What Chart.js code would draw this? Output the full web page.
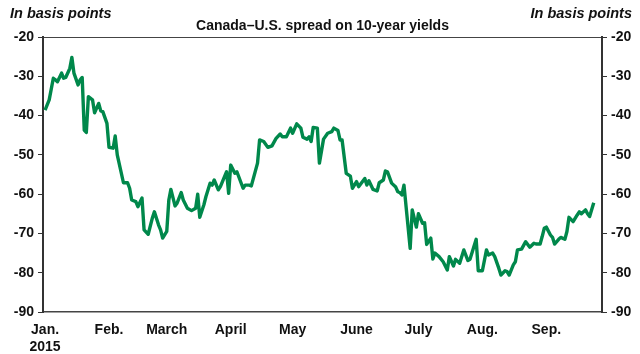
<!DOCTYPE html>
<html>
<head>
<meta charset="utf-8">
<title>Canada–U.S. spread on 10-year yields</title>
<script src="https://cdn.jsdelivr.net/npm/chart.js@4/dist/chart.umd.min.js"></script>
<style>
  html, body { margin: 0; padding: 0; background: #fff; }
  #chart { display: block; }
</style>
</head>
<body>
<canvas id="chart" width="640" height="354"></canvas>
<script>
// Day of year (0 = Jan. 1, 2015) and spread in basis points
const DAYS = [0, 2, 4, 5, 6, 8, 9, 10, 12, 13, 14, 16, 17, 18, 19, 20, 21, 23, 24, 26, 27, 28, 30, 31, 33, 34, 35, 38, 40,
  41, 42, 44, 45, 47, 48, 50, 52, 53, 55, 56, 57, 59, 60, 61, 63, 64, 66, 67, 69, 71, 73, 74, 75, 77, 78, 80,
  81, 82, 84, 85, 86, 88, 89, 90, 92, 93, 96, 97, 99, 100, 103, 104, 106, 108, 110, 112, 114, 115, 117, 119,
  120, 122, 124, 125, 127, 128, 129, 130, 132, 133, 135, 137, 139, 140, 142, 143, 144, 146, 148, 149, 151,
  152, 155, 156, 157, 159, 161, 162, 164, 165, 166, 168, 170, 171, 172, 173, 174, 177, 178, 180, 181,
  183, 184, 185, 187, 188, 189, 191, 193, 195, 196, 198, 199, 201, 203, 205, 206, 209, 210, 212, 214, 215,
  217, 218, 220, 221, 223, 224, 225, 227, 228, 229, 231, 233, 235, 237, 238, 240, 241, 242, 243, 245, 246,
  247, 249, 250, 252, 253, 254, 256, 258, 259, 260, 262, 263, 264, 266];

const SPREAD = [-38.6, -36.0, -30.5, -30.9, -31.4, -29.2, -30.5, -30.3, -28.0, -25.2, -29.2, -32.2, -30.9, -30.3,
  -43.7, -44.3, -35.2, -36.0, -39.3, -36.9, -38.8, -39.0, -42.0, -48.1, -48.3, -45.2, -50.0, -57.1, -57.1,
  -58.5, -61.5, -61.9, -63.2, -61.0, -69.1, -70.2, -66.1, -64.5, -67.8, -69.1, -71.2, -69.5, -61.5, -58.8,
  -63.0, -62.3, -59.6, -61.5, -63.6, -64.2, -63.6, -60.0, -65.9, -62.7, -60.6, -57.2, -57.7, -56.4, -58.9,
  -58.1, -56.8, -54.3, -59.8, -52.6, -54.7, -54.3, -58.5, -57.7, -57.7, -57.9, -52.1, -46.2, -46.6, -48.1,
  -47.7, -45.8, -44.7, -45.4, -45.4, -43.2, -44.5, -42.1, -43.2, -45.5, -46.0, -45.4, -46.6, -43.0, -43.2,
  -52.1, -46.0, -44.5, -44.1, -43.2, -43.8, -46.2, -46.2, -54.7, -55.4, -58.5, -56.8, -58.1, -56.0, -57.7,
  -56.6, -58.8, -59.2, -57.1, -56.4, -54.1, -54.3, -57.2, -58.2, -59.4, -59.6, -60.2, -57.7, -73.8,
  -64.0, -68.4, -65.0, -67.4, -67.3, -72.8, -71.2, -76.5, -75.0, -75.9, -77.2, -79.3, -75.9, -78.3, -76.6,
  -77.6, -74.2, -76.9, -76.6, -71.5, -79.5, -79.5, -74.2, -75.5, -75.0, -75.9, -78.9, -80.6, -79.5, -79.7,
  -80.6, -78.0, -77.2, -74.2, -74.0, -72.1, -73.5, -72.5, -72.7, -72.7, -70.8, -68.7, -68.4, -70.4, -71.0,
  -72.7, -71.5, -71.0, -71.5, -69.5, -65.9, -67.0, -65.3, -64.5, -65.0, -64.0, -65.0, -65.7, -62.2];

// Month starts on the x axis and their labels
const MONTH_TICKS = [0, 31, 59, 90, 120, 151, 181, 212, 243];
const MONTH_LABELS = [['Jan.', '2015'], 'Feb.', 'March', 'April', 'May', 'June', 'July', 'Aug.', 'Sep.'];

const Y_MIN = -90;
const Y_MAX = -20;

const TITLE = 'Canada–U.S. spread on 10-year yields';
const UNIT = 'In basis points';

const FONT = '"Liberation Sans", Arial, sans-serif';
const GREEN = '#00884b';
const INK = '#111';
const AXIS = '#333';

// Title plus the unit note above each y axis
const headerText = {
  id: 'headerText',
  afterDraw(chart) {
    const ctx = chart.ctx;
    const area = chart.chartArea;
    ctx.save();
    ctx.fillStyle = INK;
    ctx.textBaseline = 'middle';
    ctx.font = 'italic bold 14.5px ' + FONT;
    ctx.textAlign = 'left';
    ctx.fillText(UNIT, 10, 14);
    ctx.textAlign = 'right';
    ctx.fillText(UNIT, 632, 14);
    ctx.font = 'bold 14px ' + FONT;
    ctx.textAlign = 'center';
    ctx.fillText(TITLE, (area.left + area.right) / 2, 26);
    ctx.restore();
  }
};

const yAxis = (position, width) => ({
  type: 'linear',
  position,
  min: Y_MIN,
  max: Y_MAX,
  afterFit: (s) => { s.width = width; },
  ticks: {
    stepSize: 10,
    padding: 4,
    color: INK,
    font: { family: FONT, size: 14, weight: 'bold' }
  },
  grid: {
    drawOnChartArea: position === 'left',
    // only the top line (-20) closes the frame
    color: (c) => (c.tick && c.tick.value === Y_MAX ? '#444' : 'rgba(0,0,0,0)'),
    tickColor: AXIS,
    tickLength: 5,
    lineWidth: 1
  },
  border: { color: AXIS, width: 2 }
});

new Chart(document.getElementById('chart'), {
  type: 'line',
  data: {
    datasets: [{
      data: DAYS.map((d, i) => ({ x: d, y: SPREAD[i] })),
      borderColor: GREEN,
      borderWidth: 3.4,
      borderJoinStyle: 'round',
      pointRadius: 0,
      tension: 0,
      yAxisID: 'y'
    }]
  },
  options: {
    responsive: false,
    animation: false,
    layout: { padding: { top: 37, left: 0, right: 0, bottom: 0 } },
    plugins: { legend: { display: false }, tooltip: { enabled: false } },
    scales: {
      x: {
        type: 'linear',
        min: -1,
        max: 270,
        afterFit: (s) => { s.height = 42; },
        afterBuildTicks: (s) => { s.ticks = MONTH_TICKS.map(v => ({ value: v })); },
        ticks: {
          autoSkip: false,
          maxRotation: 0,
          padding: 10,
          color: INK,
          font: { family: FONT, size: 14, weight: 'bold' },
          callback: (v, i) => MONTH_LABELS[i]
        },
        grid: { display: false, drawTicks: false },
        border: { color: '#444', width: 1.5 }
      },
      y: yAxis('left', 43),
      y2: yAxis('right', 38)
    }
  },
  plugins: [headerText]
});
</script>
</body>
</html>
